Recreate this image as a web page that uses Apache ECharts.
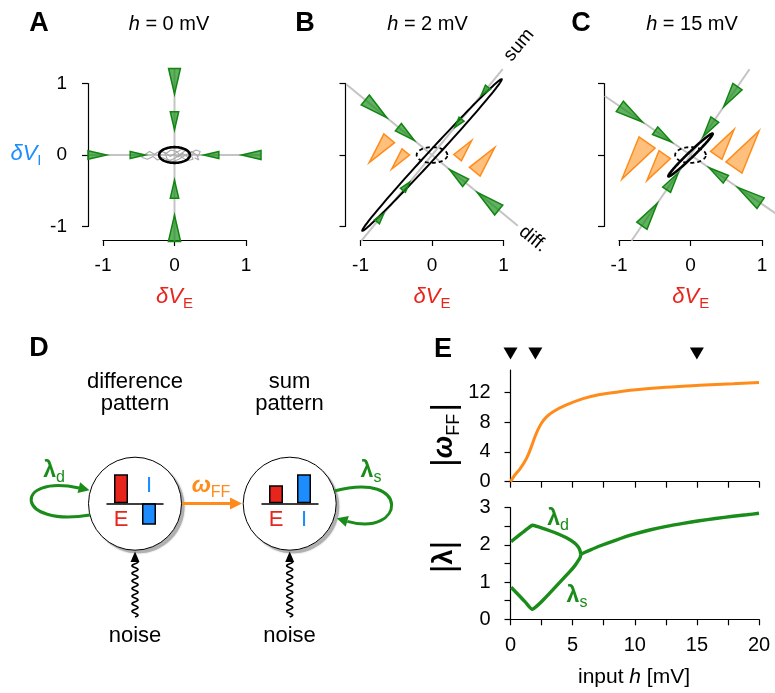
<!DOCTYPE html>
<html>
<head>
<meta charset="utf-8">
<script src="https://cdn.jsdelivr.net/npm/echarts@6/dist/echarts.min.js"></script>
<style>
  html, body { margin: 0; padding: 0; background: #fff; }
  #chart { width: 775px; height: 693px; }
</style>
</head>
<body>
<div id="chart"></div>
<script>
// ---------- phase planes (A–C) ----------
const panelInputs = [0, 2, 15];            // input h [mV] for panels A, B, C
const panelLetters = ['A', 'B', 'C'];
const sumAngles  = [90, 50.5, 55.5];        // direction of the sum mode (deg)
const diffAngles = [0, -39.5, -34.5];       // direction of the difference mode (deg)

// flow arrows along the eigen-directions: [angle, rBase, rTip]
const flowA = [[90, 1.21, 0.85], [90, 0.605, 0.35], [270, 1.21, 0.84], [270, 0.605, 0.35],
               [0, 1.21, 0.94], [0, 0.62, 0.41], [180, 1.21, 0.95], [180, 0.62, 0.41]];
const flowB = [[140.5, 1.21, 0.82], [140.5, 0.61, 0.32], [-39.5, 1.21, 0.82], [-39.5, 0.61, 0.32],
               [50.5, 1.23, 1.08], [50.5, 0.65, 0.5], [230.5, 1.21, 1.06], [230.5, 0.64, 0.49]];
const flowC = [[145.5, 1.2, 0.815], [145.5, 0.6, 0.32], [-34.5, 1.19, 0.8], [-34.5, 0.6, 0.315],
               [55.5, 1.16, 0.82], [55.5, 0.6, 0.31], [235.5, 1.2, 0.82], [235.5, 0.59, 0.3]];

// feed-forward arrows in (diff, sum) coordinates: [d, sBase, sTip]
const ffB = [[-0.31, -0.2, -0.51], [-0.61, -0.2, -0.64], [0.3, 0.2, 0.51], [0.61, 0.2, 0.64]];
const ffC = [[-0.3, -0.2, -0.64], [-0.6, -0.2, -0.82], [0.3, 0.2, 0.64], [0.6, 0.2, 0.82]];

// covariance ellipses: [cx, cy, rx, ry, angle]
const covA = [[0, 0, 0.215, 0.11, 0]];
const covB = [[0, 0, 1.44, 0.06, 47.4]];
const covC = [[0, 0, 0.43, 0.038, 44]];
const covRef = [[0, 0, 0.215, 0.11, 0]];  // h = 0 reference (dashed)

// sample noisy trajectory at h = 0
const trajA = [[-0.02, 0.01], [0.05, -0.03], [0.12, 0.02], [0.2, -0.04], [0.27, 0.03], [0.33, -0.02],
  [0.36, 0.05], [0.3, 0.07], [0.22, 0.02], [0.26, -0.06], [0.18, -0.08], [0.1, -0.03], [0.03, 0.05],
  [-0.05, 0.07], [-0.12, 0.02], [-0.2, 0.06], [-0.28, 0.01], [-0.35, 0.05], [-0.42, 0.0], [-0.46, -0.03],
  [-0.38, -0.06], [-0.3, -0.02], [-0.24, -0.07], [-0.16, -0.04], [-0.08, -0.08], [0.0, -0.05], [0.08, 0.01],
  [0.15, 0.06], [0.1, 0.08], [0.02, 0.03], [-0.06, -0.02], [-0.14, 0.04], [-0.1, -0.06], [-0.02, -0.09],
  [0.06, -0.06], [0.14, -0.01], [0.24, 0.05], [0.31, 0.0], [0.34, -0.07], [0.28, -0.04]];

// ---------- E: feed-forward weight and eigenvalues vs input ----------
const omegaH  = [0, 0.35, 0.75, 1.15, 1.42, 1.69, 1.96, 2.23, 2.49, 2.9, 3.43, 4.5, 5.84, 7.18, 8.5, 9.87, 12.5, 15.2, 17.9, 20];
const omegaFF = [0, 0.9, 1.7, 2.7, 3.6, 4.75, 6.0, 7.05, 7.85, 8.7, 9.4, 10.3, 11.15, 11.7, 12.02, 12.3, 12.67, 12.94, 13.16, 13.33];

const lamDH = [0.05, 0.5, 1.0, 1.5, 1.75, 2.2, 3.16, 3.8, 4.5, 5.17, 5.44, 5.58, 5.66];
const lamD  = [2.09, 2.21, 2.34, 2.47, 2.53, 2.49, 2.38, 2.3, 2.19, 2.05, 1.95, 1.86, 1.75];
const lamSH = [0.05, 0.75, 1.2, 1.75, 2.2, 2.63, 3.7, 4.77, 5.2, 5.44, 5.6, 5.66];
const lamS  = [0.86, 0.62, 0.46, 0.27, 0.38, 0.52, 0.9, 1.28, 1.45, 1.57, 1.66, 1.75];
const lamMH = [5.66, 6.4, 7.18, 8.5, 9.87, 11.2, 12.55, 13.9, 15.2, 16.5, 17.9, 19, 20];
const lamM  = [1.75, 1.86, 1.97, 2.13, 2.28, 2.4, 2.5, 2.58, 2.65, 2.71, 2.77, 2.81, 2.85];

const markedInputs = [0, 2, 15];
const omegaTicks = [0, 4, 8, 12];

// ---------- D: activity patterns ----------
const popNames = ['E', 'I'];
const diffPattern = [1.0, -0.74];
const sumPattern  = [0.62, 1.0];

// ---------- styles ----------
const FONT = '"Liberation Sans", Arial, Helvetica, sans-serif';
const RED = '#e8251d', BLUE = '#1c8cff';
const GREEN = '#1a8c1a', GREEN_FILL = 'rgba(20,140,20,0.68)', GREEN_EDGE = '#128412';
const ORANGE = '#ff8c1a', ORANGE_FILL = 'rgba(255,150,40,0.6)';
const GRAY = '#c4c4c4';
const RAD = Math.PI / 180;
const BOX = 1.2;

const zip = (a, b) => a.map((v, i) => [v, b[i]]);

function triangle(b, t, ratio, fill, stroke) {
  const dx = t[0] - b[0], dy = t[1] - b[1], L = Math.hypot(dx, dy);
  const hw = Math.max(ratio * L / 2, 3.2), nx = -dy / L * hw, ny = dx / L * hw;
  return {
    type: 'polygon',
    shape: { points: [[b[0] + nx, b[1] + ny], [t[0], t[1]], [b[0] - nx, b[1] - ny]] },
    style: { fill: fill, stroke: stroke, lineWidth: 1.5, lineJoin: 'miter' }
  };
}

function eigenLine(params, api) {
  const a = api.value(0) * RAD, c = Math.cos(a), s = Math.sin(a);
  const t = BOX / Math.max(Math.abs(c), Math.abs(s));
  const p1 = api.coord([-t * c, -t * s]), p2 = api.coord([t * c, t * s]);
  return { type: 'line', shape: { x1: p1[0], y1: p1[1], x2: p2[0], y2: p2[1] },
           style: { stroke: GRAY, lineWidth: 2 } };
}

function flowArrow(params, api) {
  const a = api.value(0) * RAD, rb = api.value(1), rt = api.value(2);
  const b = api.coord([rb * Math.cos(a), rb * Math.sin(a)]);
  const t = api.coord([rt * Math.cos(a), rt * Math.sin(a)]);
  return triangle(b, t, 0.46, GREEN_FILL, GREEN_EDGE);
}

function ffArrow(sumDeg, diffDeg) {
  const us = [Math.cos(sumDeg * RAD), Math.sin(sumDeg * RAD)];
  const ud = [Math.cos(diffDeg * RAD), Math.sin(diffDeg * RAD)];
  return function (params, api) {
    const d = api.value(0), sb = api.value(1), st = api.value(2);
    const b = api.coord([d * ud[0] + sb * us[0], d * ud[1] + sb * us[1]]);
    const t = api.coord([d * ud[0] + st * us[0], d * ud[1] + st * us[1]]);
    return triangle(b, t, 0.44, ORANGE_FILL, ORANGE);
  };
}

function ellipse(dash, width) {
  return function (params, api) {
    const cx = api.value(0), cy = api.value(1), rx = api.value(2), ry = api.value(3), a = api.value(4) * RAD;
    const pts = [];
    for (let k = 0; k < 120; k++) {
      const th = k / 120 * 2 * Math.PI, ex = rx * Math.cos(th), ey = ry * Math.sin(th);
      pts.push(api.coord([cx + ex * Math.cos(a) - ey * Math.sin(a), cy + ex * Math.sin(a) + ey * Math.cos(a)]));
    }
    return { type: 'polygon', shape: { points: pts },
             style: { fill: 'none', stroke: '#000', lineWidth: width, lineDash: dash } };
  };
}

function inputMarker(params, api) {
  const p = api.coord([api.value(0), 15]);
  return { type: 'polygon',
           shape: { points: [[p[0] - 7, p[1] - 22.5], [p[0] + 7, p[1] - 22.5], [p[0], p[1] - 10.5]] },
           style: { fill: '#000' } };
}

// ---------- grids and axes ----------
const axisLineStyle = { color: '#000', width: 1.2 };
const grids = [
  { left: 103, top: 83.5, width: 143, height: 143 },
  { left: 360.5, top: 83.5, width: 143, height: 143 },
  { left: 619, top: 83.5, width: 143, height: 143 },
  { left: 510.5, top: 370, width: 248.5, height: 111.7 },
  { left: 510.5, top: 507.7, width: 248.5, height: 111.6 },
  { left: 107, top: 474.3, width: 56, height: 58 },
  { left: 262, top: 474.3, width: 56, height: 58 }
].map(g => Object.assign({ containLabel: false, outerBoundsMode: 'none' }, g));

const tickLabel = { fontSize: 19, color: '#000', fontFamily: FONT };

const xAxes = [0, 1, 2].map(i => ({
  gridIndex: i, type: 'value', min: -1, max: 1, interval: 1, offset: 13.5,
  axisLine: { onZero: false, lineStyle: axisLineStyle },
  axisTick: { length: 6, lineStyle: axisLineStyle },
  axisLabel: Object.assign({ margin: 16 }, tickLabel),
  splitLine: { show: false }
})).concat([
  { gridIndex: 3, type: 'value', min: 0, max: 20, interval: 2.5,
    axisLine: { onZero: false, lineStyle: axisLineStyle },
    axisTick: { length: 6, lineStyle: axisLineStyle },
    axisLabel: { show: false }, splitLine: { show: false } },
  { gridIndex: 4, type: 'value', min: 0, max: 20, interval: 2.5,
    axisLine: { onZero: false, lineStyle: axisLineStyle },
    axisTick: { length: 6, lineStyle: axisLineStyle },
    axisLabel: Object.assign({ margin: 16, formatter: v => (v % 5 === 0 ? String(v) : '') }, tickLabel, { fontSize: 20 }),
    splitLine: { show: false } },
  { gridIndex: 5, type: 'category', data: popNames, z: 6,
    axisLine: { onZero: true, lineStyle: { color: '#000', width: 1.5 } },
    axisTick: { show: false }, axisLabel: { show: false } },
  { gridIndex: 6, type: 'category', data: popNames, z: 6,
    axisLine: { onZero: true, lineStyle: { color: '#000', width: 1.5 } },
    axisTick: { show: false }, axisLabel: { show: false } }
]);

const yAxes = [0, 1, 2].map(i => ({
  gridIndex: i, type: 'value', min: -1, max: 1, interval: 1, offset: 15,
  axisLine: { onZero: false, lineStyle: axisLineStyle },
  axisTick: { length: 6, lineStyle: axisLineStyle },
  axisLabel: Object.assign({ show: i === 0, margin: 21 }, tickLabel),
  splitLine: { show: false }
})).concat([
  { gridIndex: 3, type: 'value', min: 0, max: 15,
    axisLine: { onZero: false, lineStyle: axisLineStyle },
    axisTick: { length: 6, lineStyle: axisLineStyle, customValues: omegaTicks },
    axisLabel: Object.assign({ margin: 20, customValues: omegaTicks }, tickLabel, { fontSize: 20 }),
    splitLine: { show: false } },
  { gridIndex: 4, type: 'value', min: 0, max: 3, interval: 0.5,
    axisLine: { onZero: false, lineStyle: axisLineStyle },
    axisTick: { length: 6, lineStyle: axisLineStyle },
    axisLabel: Object.assign({ margin: 20, formatter: v => (v % 1 === 0 ? String(v) : '') }, tickLabel, { fontSize: 20 }),
    splitLine: { show: false } },
  { gridIndex: 5, type: 'value', min: -1, max: 1, show: false },
  { gridIndex: 6, type: 'value', min: -1, max: 1, show: false }
]);

// ---------- series ----------
const flows = [flowA, flowB, flowC];
const covs = [covA, covB, covC];
const series = [];

[0, 1, 2].forEach(i => {
  series.push({ type: 'custom', xAxisIndex: i, yAxisIndex: i, silent: true, z: 1,
                renderItem: eigenLine, data: [[sumAngles[i], 0], [diffAngles[i], 0]] });
});
series.push({ type: 'line', xAxisIndex: 0, yAxisIndex: 0, data: trajA, clip: false, z: 2,
              showSymbol: false, silent: true, lineStyle: { color: '#aaaaaa', width: 1.1 } });
[0, 1, 2].forEach(i => {
  series.push({ type: 'custom', xAxisIndex: i, yAxisIndex: i, silent: true, z: 3,
                renderItem: ellipse(null, i === 1 ? 2 : 2.6), data: covs[i] });
  if (i > 0) {
    series.push({ type: 'custom', xAxisIndex: i, yAxisIndex: i, silent: true, z: 6,
                  renderItem: ellipse([4, 3], 1.8), data: covRef });
  }
  series.push({ type: 'custom', xAxisIndex: i, yAxisIndex: i, silent: true, z: 5,
                renderItem: flowArrow, data: flows[i] });
});
series.push({ type: 'custom', xAxisIndex: 1, yAxisIndex: 1, silent: true, z: 4,
              renderItem: ffArrow(sumAngles[1], diffAngles[1]), data: ffB });
series.push({ type: 'custom', xAxisIndex: 2, yAxisIndex: 2, silent: true, z: 4,
              renderItem: ffArrow(sumAngles[2], diffAngles[2]), data: ffC });

// E
series.push({ type: 'line', xAxisIndex: 3, yAxisIndex: 3, data: zip(omegaH, omegaFF), smooth: 0.35,
              showSymbol: false, clip: false, silent: true, lineStyle: { color: ORANGE, width: 3 } });
series.push({ type: 'custom', xAxisIndex: 3, yAxisIndex: 3, silent: true,
              renderItem: inputMarker, data: markedInputs.map(h => [h, 0]) });
[[lamDH, lamD], [lamSH, lamS], [lamMH, lamM]].forEach(([h, l]) => {
  series.push({ type: 'line', xAxisIndex: 4, yAxisIndex: 4, data: zip(h, l), smooth: 0.2,
                showSymbol: false, clip: false, silent: true, lineStyle: { color: GREEN, width: 3.4 } });
});

// D: bar schematics of the two activity patterns
function patternBars(values, gridIdx) {
  return {
    type: 'bar', xAxisIndex: gridIdx, yAxisIndex: gridIdx, barWidth: 14, silent: true, z: 5,
    data: values.map((v, k) => {
      const col = k === 0 ? RED : BLUE;
      const below = (gridIdx === 6) || v > 0;
      return {
        value: v,
        itemStyle: { color: col, borderColor: '#000', borderWidth: 1.5 },
        label: { show: true, position: below ? 'bottom' : 'top', distance: 6, formatter: '{b}',
                 color: col, fontSize: 22, fontFamily: FONT }
      };
    })
  };
}
series.push(patternBars(diffPattern, 5));
series.push(patternBars(sumPattern, 6));

// ---------- text and schematic graphics ----------
function txt(x, y, text, style, rot) {
  const s = Object.assign({ text: text, fontFamily: FONT, fontSize: 20, fill: '#000',
    align: 'center', verticalAlign: 'middle', textAlign: 'center', textVerticalAlign: 'middle' }, style || {});
  return { type: 'text', x: x, y: y, rotation: (rot || 0) * RAD, z: 20, style: s };
}
const subRich = (col, main, sub, mainStyle) => ({
  m: Object.assign({ fontSize: main, lineHeight: main + 7, fill: col, fontFamily: FONT }, mainStyle || {}),
  s: { fontSize: sub, lineHeight: sub, verticalAlign: 'bottom', fill: col, fontFamily: FONT }
});

const graphics = [];
const letterStyle = { fontSize: 27, fontWeight: 'bold' };
[[39, 24], [305, 24], [581, 24]].forEach((p, i) => graphics.push(txt(p[0], p[1], panelLetters[i], letterStyle)));
graphics.push(txt(39, 349, 'D', letterStyle));
graphics.push(txt(443, 350, 'E', letterStyle));

const titleX = [169, 427.5, 692];
panelInputs.forEach((h, i) => graphics.push(txt(titleX[i], 24, '{i|h} = ' + h + ' mV',
  { fontSize: 20, rich: { i: { fontStyle: 'italic', fontSize: 20, fontFamily: FONT } } })));

const panelCenters = [174.5, 432, 690.7];
panelCenters.forEach(cx => graphics.push(txt(cx, 297, '{m|δV}{s|E}',
  { rich: subRich(RED, 22, 15, { fontStyle: 'italic' }) })));
graphics.push(txt(26, 154, '{m|δV}{s|I}', { rich: subRich(BLUE, 22, 15, { fontStyle: 'italic' }) }));

graphics.push(txt(519, 45, 'sum', { fontSize: 19 }, 50.5));
graphics.push(txt(533, 239, 'diff.', { fontSize: 19 }, -39.5));

// E axis names and curve labels
graphics.push(txt(445, 435, '{b||}{w|ω}{s|FF}{b||}', {
  rich: {
    b: { fontSize: 34, lineHeight: 36, fill: '#000', fontFamily: FONT },
    w: { fontSize: 27, lineHeight: 34, fontWeight: 'bold', fontStyle: 'italic', fill: '#000', fontFamily: FONT },
    s: { fontSize: 18, lineHeight: 18, verticalAlign: 'bottom', fill: '#000', fontFamily: FONT, padding: [0, 2, 0, 0] }
  } }, 90));
graphics.push(txt(445, 557, '{b||}{l|λ}{b||}', {
  rich: {
    b: { fontSize: 34, lineHeight: 36, fill: '#000', fontFamily: FONT },
    l: { fontSize: 27, lineHeight: 34, fontWeight: 'bold', fill: '#000', fontFamily: FONT }
  } }, 90));
graphics.push(txt(558, 519, '{m|λ}{s|d}', { rich: subRich(GREEN, 23, 16, { fontWeight: 'bold' }) }));
graphics.push(txt(577, 596, '{m|λ}{s|s}', { rich: subRich(GREEN, 23, 16, { fontWeight: 'bold' }) }));
graphics.push(txt(634, 677, 'input {i|h} [mV]', { fontSize: 21, rich: { i: { fontStyle: 'italic', fontSize: 21, fontFamily: FONT } } }));

// D schematic
const nodes = [[135, 503.7], [289.7, 503.7]];
const R = 46.5;
nodes.forEach(c => {
  graphics.push({
    type: 'circle', z: 0, shape: { cx: c[0] + 3, cy: c[1] + 3, r: R },
    style: { fill: '#b0b0b0', shadowBlur: 2, shadowColor: 'rgba(0,0,0,0.3)' }
  });
  graphics.push({
    type: 'circle', z: 1, shape: { cx: c[0], cy: c[1], r: R },
    style: { fill: '#fff', stroke: '#000', lineWidth: 1 }
  });
});
graphics.push(txt(135, 381.5, 'difference', { fontSize: 22 }));
graphics.push(txt(135, 404, 'pattern', { fontSize: 22 }));
graphics.push(txt(289.5, 381.5, 'sum', { fontSize: 22 }));
graphics.push(txt(289.5, 404, 'pattern', { fontSize: 22 }));
graphics.push(txt(135, 636, 'noise', { fontSize: 22 }));
graphics.push(txt(289.5, 636, 'noise', { fontSize: 22 }));

function arrowHead(tip, dir, len, half, color) {
  const bx = tip[0] - dir[0] * len, by = tip[1] - dir[1] * len;
  return { type: 'polygon', z: 3,
           shape: { points: [[bx - dir[1] * half, by + dir[0] * half], tip, [bx + dir[1] * half, by - dir[0] * half]] },
           style: { fill: color } };
}
// self-coupling loops
graphics.push({ type: 'bezierCurve', z: 3,
  shape: { x1: 90, y1: 515, cpx1: 15, cpy1: 528, cpx2: 12, cpy2: 474, x2: 79, y2: 488 },
  style: { stroke: GREEN, lineWidth: 3, fill: 'none' } });
graphics.push(arrowHead([89.5, 490.3], [0.97, 0.24], 11, 5.5, GREEN));
graphics.push({ type: 'bezierCurve', z: 3,
  shape: { x1: 334.4, y1: 491, cpx1: 412, cpy1: 470, cpx2: 405, cpy2: 538, x2: 347.3, y2: 521.4 },
  style: { stroke: GREEN, lineWidth: 3, fill: 'none' } });
graphics.push(arrowHead([336.7, 518.3], [-0.96, -0.28], 11, 5.5, GREEN));
graphics.push(txt(54, 471, '{m|λ}{s|d}', { rich: subRich(GREEN, 23, 16, { fontWeight: 'bold' }) }));
graphics.push(txt(371, 471, '{m|λ}{s|s}', { rich: subRich(GREEN, 23, 16, { fontWeight: 'bold' }) }));

// feed-forward arrow
graphics.push({ type: 'line', z: 3, shape: { x1: 182, y1: 503.5, x2: 232, y2: 503.5 },
  style: { stroke: ORANGE, lineWidth: 3 } });
graphics.push(arrowHead([242, 503.5], [1, 0], 12, 6, ORANGE));
graphics.push(txt(211, 486, '{m|ω}{s|FF}', { rich: subRich(ORANGE, 23, 16, { fontWeight: 'bold', fontStyle: 'italic' }) }));

// noise inputs (wavy arrows)
nodes.forEach(c => {
  const pts = [];
  for (let y = 617; y >= 561; y -= 0.5) pts.push([c[0] + 3 * Math.sin((617 - y) / 7.6 * 2 * Math.PI), y]);
  graphics.push({ type: 'polyline', z: 3, shape: { points: pts }, style: { stroke: '#000', lineWidth: 1.6, fill: 'none' } });
  graphics.push(arrowHead([c[0], 551.5], [0, -1], 10.5, 4.5, '#000'));
});

const chart = echarts.init(document.getElementById('chart'), null, { renderer: 'canvas' });
chart.setOption({
  animation: false,
  backgroundColor: '#fff',
  textStyle: { fontFamily: FONT },
  grid: grids,
  xAxis: xAxes,
  yAxis: yAxes,
  series: series,
  graphic: { elements: graphics }
});
</script>
</body>
</html>
